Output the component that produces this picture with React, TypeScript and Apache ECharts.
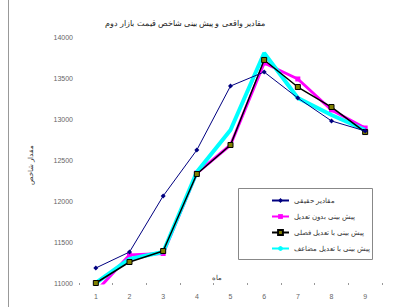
import React, { useEffect, useRef } from "react";
import * as echarts from "echarts";

const categories = ["1", "2", "3", "4", "5", "6", "7", "8", "9"];
const actual = [11183, 11378, 12061, 12622, 13402, 13573, 13256, 12976, 12854];
const noAdjust = [10894, 11341, 11360, 12341, 12683, 13683, 13488, 13110, 12890];
const seasonal = [11000, 11256, 11390, 12329, 12683, 13720, 13390, 13146, 12841];
const doubleAdj = [11000, 11293, 11378, 12354, 12866, 13805, 13256, 13049, 12866];
const seriesNames = [
  "مقادیر حقیقی",
  "پیش بینی بدون تعدیل",
  "پیش بینی با تعدیل فصلی",
  "پیش بینی با تعدیل مضاعف",
];
const titleText = "مقادیر واقعی و پیش بینی شاخص قیمت بازار دوم";
const yName = "مقدار شاخص";
const xName = "ماه";

export default function App() {
  const ref = useRef<HTMLDivElement>(null);
  useEffect(() => {
    if (!ref.current) return;
    const chart = echarts.init(ref.current, null, { renderer: "svg" });
    const font = "Arial, 'Liberation Sans', 'Noto Sans', sans-serif";
    chart.setOption({
      animation: false,
      backgroundColor: "#ffffff",
      textStyle: { fontFamily: font },
      grid: { left: 79, right: 31, top: 37, bottom: 24 },
      xAxis: {
        type: "category",
        data: categories,
        boundaryGap: true,
        axisLine: { show: false },
        axisTick: { show: true, length: 2, lineStyle: { color: "#999" } },
        axisLabel: { color: "#666", fontSize: 7, margin: 10 },
        splitLine: { show: false },
      },
      yAxis: {
        type: "value",
        min: 11000,
        max: 14000,
        interval: 500,
        axisLine: { show: false },
        axisTick: { show: false },
        axisLabel: { color: "#666", fontSize: 7, margin: 6, formatter: (v: number) => String(v) },
        splitLine: { show: false },
      },
      legend: {
        orient: "vertical",
        left: 266,
        top: 192,
        itemGap: 9,
        itemWidth: 17,
        itemHeight: 6,
        data: seriesNames,
        textStyle: { fontSize: 7, color: "#333", fontFamily: font },
      },
      graphic: [
        { type: "line", shape: { x1: 8.5, y1: 0, x2: 8.5, y2: 307 }, style: { stroke: "#999", lineWidth: 1 } },
        { type: "rect", shape: { x: 238.5, y: 188.5, width: 134, height: 71 }, style: { fill: "none", stroke: "#888", lineWidth: 1 } },
        { type: "text", x: 185, y: 23, style: { text: titleText, fontSize: 8, fill: "#222", align: "center", verticalAlign: "middle", fontFamily: font } },
        { type: "text", x: 30, y: 165, rotation: Math.PI / 2, style: { text: yName, fontSize: 7, fill: "#333", align: "center", verticalAlign: "middle", fontFamily: font } },
        { type: "text", x: 217, y: 277, style: { text: xName, fontSize: 7, fill: "#333", align: "center", verticalAlign: "middle", fontFamily: font } },
      ],
      series: [
        {
          name: seriesNames[0],
          type: "line",
          data: actual,
          symbol: "diamond",
          symbolSize: 5,
          clip: true,
          lineStyle: { color: "#000080", width: 1 },
          itemStyle: { color: "#000080" },
          z: 5,
        },
        {
          name: seriesNames[1],
          type: "line",
          data: noAdjust,
          symbol: "rect",
          symbolSize: 5,
          clip: true,
          lineStyle: { color: "#ff00ff", width: 3 },
          itemStyle: { color: "#ff00ff" },
          z: 2,
        },
        {
          name: seriesNames[2],
          type: "line",
          data: seasonal,
          symbol: "rect",
          symbolSize: 5,
          clip: true,
          lineStyle: { color: "#000000", width: 1.5 },
          itemStyle: { color: "#808000", borderColor: "#000", borderWidth: 1 },
          z: 4,
        },
        {
          name: seriesNames[3],
          type: "line",
          data: doubleAdj,
          symbol: "none",
          clip: true,
          lineStyle: { color: "#00ffff", width: 4 },
          itemStyle: { color: "#00ffff" },
          z: 3,
        },
      ],
    });
    return () => chart.dispose();
  }, []);
  return (
    <div
      ref={ref}
      style={{ position: "fixed", left: 0, top: 0, width: 413, height: 307 }}
    />
  );
}
